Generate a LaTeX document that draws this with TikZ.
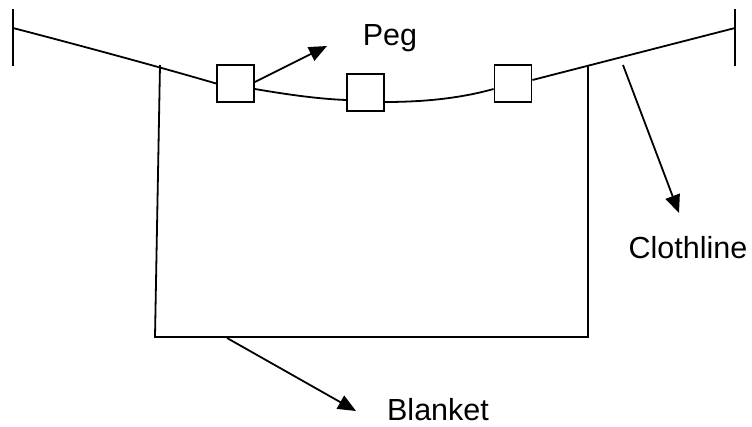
\documentclass[tikz,border=0pt]{standalone}
\usepackage{fontspec}
\setmainfont{Liberation Sans}
\usetikzlibrary{arrows.meta}
\begin{document}
\begin{tikzpicture}[x=1pt,y=-1pt,
  wire/.style={line width=1.8pt},
  pegbox/.style={draw,line width=1.8pt,minimum width=37pt,minimum height=37pt,inner sep=0pt,fill=white},
  callout/.style={line width=1.8pt,-{Triangle[length=18pt,width=15pt]}},
  lbl/.style={anchor=base,font=\fontsize{30.5}{34}\selectfont,inner sep=0pt}]
\useasboundingbox (0,0) rectangle (752,426);
% posts
\coordinate (lpt) at (13,9); \coordinate (lpb) at (13,66);
\coordinate (rpt) at (735,9); \coordinate (rpb) at (735,66);
\coordinate (lend) at (13,28); \coordinate (rend) at (735,28);
\draw[wire] (lpt) -- (lpb);
\draw[wire] (rpt) -- (rpb);
% pegs
\node[pegbox] (peg1) at (235.5,83.5) {};
\node[pegbox] (peg2) at (365.5,92.5) {};
\node[pegbox] (peg3) at (513,83.5) {};
% clothline
\draw[wire] (lend) .. controls (90,48) and (170,70) .. (peg1.west);
\draw[wire] ([yshift=-5.5pt]peg1.east) .. controls (290,95) and (320,99) .. ([yshift=-7.5pt]peg2.west);
\draw[wire] ([yshift=-9.5pt]peg2.east) .. controls (430,102) and (465,97) .. ([yshift=-5.5pt]peg3.west);
\draw[wire] ([yshift=3.5pt]peg3.east) -- (rend);
% blanket
\coordinate (btl) at (160,65); \coordinate (bbl) at (155,337);
\coordinate (btr) at (588,65); \coordinate (bbr) at (588,337);
\draw[wire] (btl) -- (bbl) -- (bbr) -- (btr);
% labels
\node[lbl] (peglbl) at (390,45) {Peg};
\node[lbl] (blanketlbl) at (438,420) {Blanket};
\node[lbl] (clothlbl) at (688,258) {Clothline};
% callouts
\coordinate (pegtip) at (327,46);
\coordinate (clfrom) at (623,65); \coordinate (cltip) at (679,213);
\coordinate (blfrom) at (227,338); \coordinate (bltip) at (356,411);
\draw[callout] ([yshift=1.5pt]peg1.east) -- (pegtip);
\draw[callout] (clfrom) -- (cltip);
\draw[callout] (blfrom) -- (bltip);
\end{tikzpicture}
\end{document}
